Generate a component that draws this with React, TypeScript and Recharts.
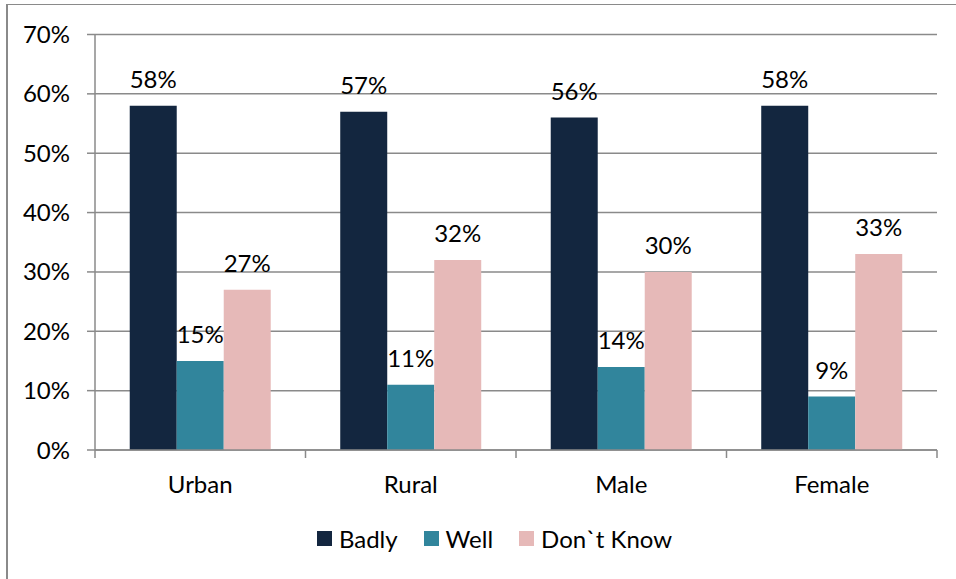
import React from "react";
import { BarChart, Bar, XAxis, YAxis, CartesianGrid, Legend, LabelList } from "recharts";

const categories = ["Urban", "Rural", "Male", "Female"];
const badly = [58, 57, 56, 58];
const well = [15, 11, 14, 9];
const dontKnow = [27, 32, 30, 33];
const yTicks = [0, 10, 20, 30, 40, 50, 60, 70];
const seriesNames = ["Badly", "Well", "Don`t Know"];
const seriesColors = ["#13263F", "#31859C", "#E6B9B8"];

const data = categories.map((c, i) => ({
  name: c,
  badly: badly[i],
  well: well[i],
  dontKnow: dontKnow[i],
}));

const FONT = "Lato, 'Open Sans', sans-serif";
const GRID = "#8a8a8a";

const XTick = (props: any) => {
  const { x, y, payload, index, visibleTicksCount, width } = props;
  const half =
    payload && typeof payload.offset === "number" && payload.offset > 0
      ? payload.offset
      : width / visibleTicksCount / 2;
  return (
    <g>
      <line x1={x - half} x2={x - half} y1={y} y2={y + 8} stroke={GRID} strokeWidth={1.5} />
      {index === visibleTicksCount - 1 && (
        <line x1={x + half} x2={x + half} y1={y} y2={y + 8} stroke={GRID} strokeWidth={1.5} />
      )}
      <text x={x} y={y + 43} textAnchor="middle" fill="#000" fontSize={24} fontFamily={FONT}>
        {payload.value}
      </text>
    </g>
  );
};

const LegendContent = () => (
  <div
    style={{
      display: "flex",
      justifyContent: "center",
      alignItems: "center",
      fontFamily: FONT,
      fontSize: 24,
      color: "#000",
      paddingLeft: 33,
    }}
  >
    {seriesNames.map((n, i) => (
      <div key={n} style={{ display: "flex", alignItems: "center", marginRight: i < 2 ? 26 : 0 }}>
        <div style={{ width: 15, height: 15, background: seriesColors[i], marginRight: 7 }} />
        <span>{n}</span>
      </div>
    ))}
  </div>
);

export default function App() {
  return (
    <div style={{ position: "absolute", left: 0, top: 0, width: 956, height: 579, background: "#fff", overflow: "hidden" }}>
      <div
        style={{
          position: "absolute",
          left: 6,
          top: 4,
          width: 1000,
          height: 700,
          borderLeft: `2px solid ${GRID}`,
          borderTop: `1.5px solid ${GRID}`,
        }}
      />
      <div style={{ position: "absolute", left: 0, top: 0 }}>
        <BarChart
          width={956}
          height={579}
          data={data}
          margin={{ top: 34.5, right: 19, left: 0, bottom: 0 }}
          barCategoryGap="16.5%"
          barGap={0}
        >
          <CartesianGrid vertical={false} stroke={GRID} strokeWidth={1.5} />
          <XAxis
            dataKey="name"
            height={129}
            tickLine={false}
            tickSize={0}
            tickMargin={0}
            axisLine={{ stroke: GRID, strokeWidth: 1.5 }}
            tick={<XTick />}
            interval={0}
          />
          <YAxis
            width={95}
            domain={[0, 70]}
            ticks={yTicks}
            interval={0}
            tickFormatter={(v: number) => `${v}%`}
            tickSize={8}
            tickMargin={17}
            tickLine={{ stroke: GRID, strokeWidth: 1.5 }}
            axisLine={{ stroke: GRID, strokeWidth: 1.5 }}
            tick={{ fill: "#000", fontSize: 24, fontFamily: FONT }}
          />
          <Legend
            layout="horizontal"
            verticalAlign="middle"
            align="center"
            wrapperStyle={{ top: 524, left: 0, width: 956, height: 32 }}
            content={<LegendContent />}
          />
          <Bar dataKey="badly" name="Badly" fill={seriesColors[0]} isAnimationActive={false}>
            <LabelList dataKey="badly" position="top" offset={18} fill="#000" fontSize={24} fontFamily={FONT} formatter={(v: any) => `${v}%`} />
          </Bar>
          <Bar dataKey="well" name="Well" fill={seriesColors[1]} isAnimationActive={false}>
            <LabelList dataKey="well" position="top" offset={18} fill="#000" fontSize={24} fontFamily={FONT} formatter={(v: any) => `${v}%`} />
          </Bar>
          <Bar dataKey="dontKnow" name="Don`t Know" fill={seriesColors[2]} isAnimationActive={false}>
            <LabelList dataKey="dontKnow" position="top" offset={18} fill="#000" fontSize={24} fontFamily={FONT} formatter={(v: any) => `${v}%`} />
          </Bar>
        </BarChart>
      </div>
    </div>
  );
}
